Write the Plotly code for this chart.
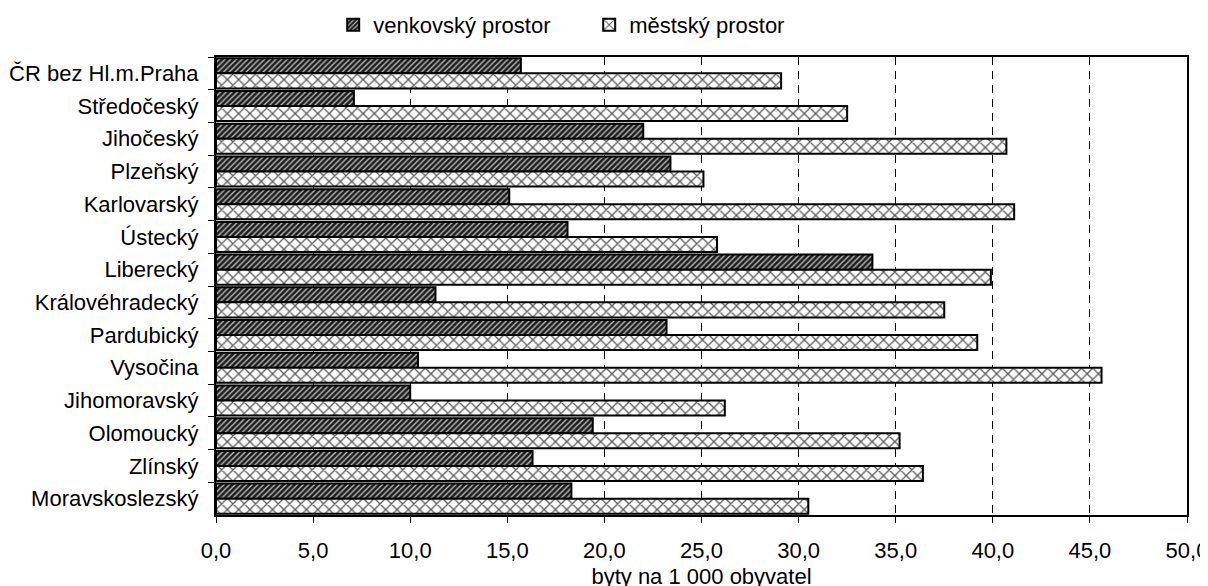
import plotly.graph_objects as go

categories = [
    "ČR bez Hl.m.Praha", "Středočeský", "Jihočeský", "Plzeňský", "Karlovarský",
    "Ústecký", "Liberecký", "Královéhradecký", "Pardubický", "Vysočina",
    "Jihomoravský", "Olomoucký", "Zlínský", "Moravskoslezský",
]
venkovsky = [15.7, 7.1, 22.0, 23.4, 15.1, 18.1, 33.8, 11.3, 23.2, 10.4, 10.0, 19.4, 16.3, 18.3]
mestsky = [29.1, 32.5, 40.7, 25.1, 41.1, 25.8, 39.9, 37.5, 39.2, 45.6, 26.2, 35.2, 36.4, 30.5]
x_ticks = [0, 5, 10, 15, 20, 25, 30, 35, 40, 45, 50]

fig = go.Figure()
fig.add_trace(go.Bar(
    y=categories, x=venkovsky, orientation="h", name="venkovský prostor",
    marker=dict(
        color="#1e1e1e",
        line=dict(color="black", width=2),
        pattern=dict(shape="/", bgcolor="#1a1a1a", fgcolor="#bdbdbd", size=4, solidity=0.35, fillmode="replace"),
    ),
))
fig.add_trace(go.Bar(
    y=categories, x=mestsky, orientation="h", name="městský prostor",
    marker=dict(
        color="white",
        line=dict(color="black", width=2),
        pattern=dict(shape="x", bgcolor="white", fgcolor="#5a5a5a", size=8, solidity=0.3, fillmode="replace"),
    ),
))

fig.update_layout(
    width=1208, height=586,
    margin=dict(l=208, r=29, t=49, b=79, autoexpand=False),
    plot_bgcolor="white", paper_bgcolor="white",
    barmode="group", bargap=0.08, bargroupgap=0.0,
    separators=", ",
    font=dict(family="Liberation Sans, Arial, sans-serif", size=22, color="black"),
    legend=dict(
        orientation="h", xref="container", yref="container",
        x=0.2692, y=0.971, xanchor="left", yanchor="middle",
        font=dict(size=22), entrywidth=211, entrywidthmode="pixels",
        bgcolor="rgba(0,0,0,0)",
    ),
    showlegend=True,
)

fig.update_xaxes(
    range=[0, 50], tickvals=x_ticks, tickformat=".1f",
    showline=True, linecolor="black", linewidth=2, mirror=True,
    ticks="outside", ticklen=6, tickcolor="black", tickwidth=1,
    showgrid=True, gridcolor="black", gridwidth=1, griddash="8px,6px",
    zeroline=False, ticklabelstandoff=9, ticklabeloverflow="allow", automargin=False,
    title=dict(text="byty na 1 000 obyvatel", standoff=6, font=dict(size=22)),
)
fig.update_yaxes(
    autorange="reversed", type="category",
    showline=True, linecolor="black", linewidth=2, mirror=True,
    ticks="outside", ticklen=6, tickcolor="black", tickwidth=1, tickson="boundaries",
    showgrid=False, ticklabelstandoff=11, automargin=False,
)

fig.write_html("out.html")
